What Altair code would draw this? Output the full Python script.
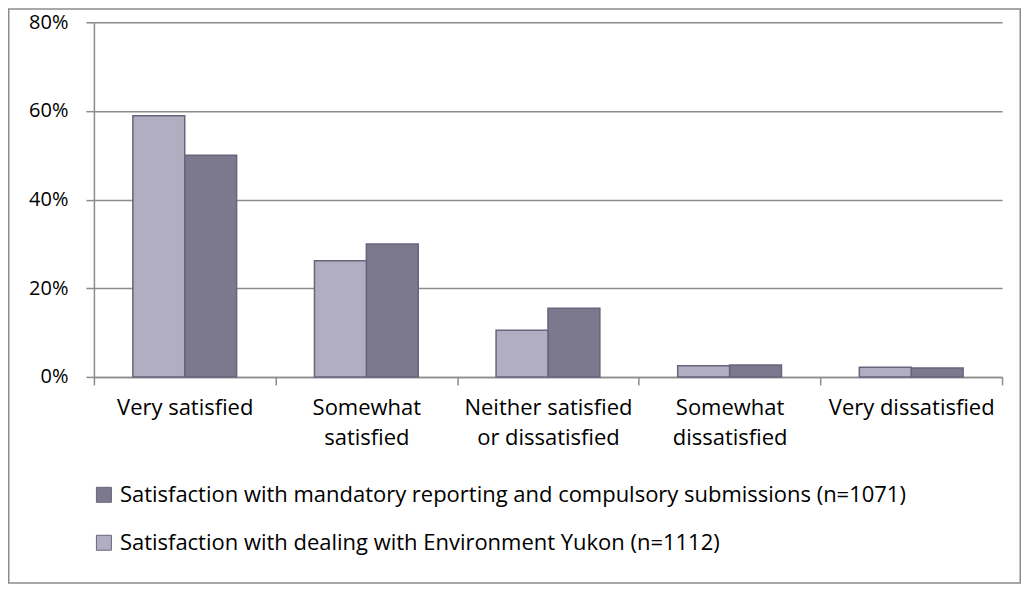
import altair as alt
import pandas as pd

categories = ["Very satisfied", "Somewhat|satisfied", "Neither satisfied|or dissatisfied",
              "Somewhat|dissatisfied", "Very dissatisfied"]
series = ["Satisfaction with mandatory reporting and compulsory submissions (n=1071)",
          "Satisfaction with dealing with Environment Yukon (n=1112)"]
mandatory = [0.50, 0.30, 0.155, 0.027, 0.020]
yukon = [0.589, 0.262, 0.105, 0.025, 0.022]
colors = ["#7C798F", "#B1AEC1"]

rows = []
for c, m, y in zip(categories, mandatory, yukon):
    rows.append({"cat": c, "series": series[0], "value": m})
    rows.append({"cat": c, "series": series[1], "value": y})
df = pd.DataFrame(rows)

W, H = 909, 355
PL, PT, PR, PB = 86, 14, 19, 207
FONT = "Open Sans"

bars = alt.Chart(df).mark_bar(stroke="#67647C", strokeWidth=1.5).encode(
    x=alt.X("cat:N", sort=categories, title=None,
            scale=alt.Scale(paddingInner=0, paddingOuter=0),
            axis=alt.Axis(labelExpr="split(datum.label, '|')", labelAngle=0,
                          tickBand="extent", tickSize=8, labelPadding=13,
                          labelLineHeight=30, labelFontSize=22, labelColor="#000000",
                          domainColor="#8C8C8C", tickColor="#8C8C8C",
                          domainWidth=1.5, tickWidth=1.5, grid=False)),
    xOffset=alt.XOffset("series:N", sort=[series[1], series[0]],
                        scale=alt.Scale(paddingInner=0, paddingOuter=0.75)),
    y=alt.Y("value:Q", title=None,
            scale=alt.Scale(domain=[0, 0.8]),
            axis=alt.Axis(format=".0%", values=[0, 0.2, 0.4, 0.6, 0.8], tickSize=8,
                          labelPadding=18, labelFontSize=20, labelColor="#000000",
                          domainColor="#8C8C8C", tickColor="#8C8C8C",
                          domainWidth=1.5, tickWidth=1.5, gridColor="#8C8C8C",
                          gridWidth=1.5)),
    color=alt.Color("series:N", scale=alt.Scale(domain=series, range=colors),
                    legend=alt.Legend(title=None, orient="none", legendX=-1, legendY=462,
                                      direction="vertical", symbolType="square",
                                      symbolSize=225, symbolStrokeColor="#67647C",
                                      symbolStrokeWidth=1, labelFontSize=22,
                                      labelColor="#000000", labelOffset=5,
                                      rowPadding=26, labelLimit=1000)),
)

frame = alt.Chart(pd.DataFrame({"a": [0]})).mark_rect(
    fill=None, stroke="#8C8C8C", strokeWidth=1.5
).encode(
    x=alt.value(-PL + 0.75), x2=alt.value(W + PR - 0.75),
    y=alt.value(-PT + 0.75), y2=alt.value(H + PB - 0.75),
)

chart = alt.layer(bars, frame).properties(
    width=W, height=H,
    autosize=alt.AutoSizeParams(type="none"),
    padding={"left": PL, "top": PT, "right": PR, "bottom": PB},
).configure(font=FONT).configure_view(stroke=None)

chart.save("out.html", embed_options={"renderer": "svg", "actions": False})
